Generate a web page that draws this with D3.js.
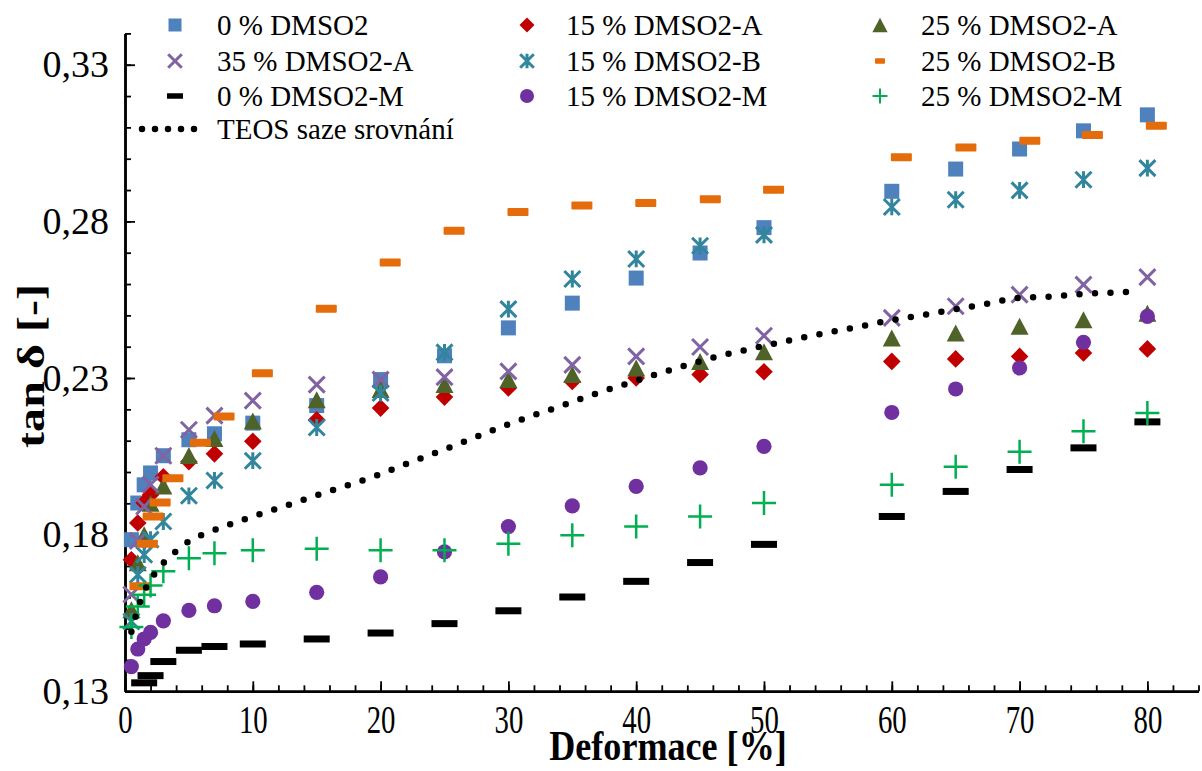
<!DOCTYPE html>
<html>
<head>
<meta charset="utf-8">
<script src="https://cdn.jsdelivr.net/npm/d3@7"></script>
<style>
  body { margin: 0; background: #fff; }
  svg { display: block; font-family: "Liberation Serif", "Times New Roman", serif; }
  svg text { font-family: "Liberation Serif", "Times New Roman", serif; }
</style>
</head>
<body>
<svg id="chart" width="1202" height="771"></svg>
<script>
// strain steps used by most of the samples
var strain = [0.5, 1, 1.5, 2, 3, 5, 7, 10, 15, 20, 25, 30, 35, 40, 45, 50, 60, 65, 70, 75, 80];
// 25 % DMSO2-B sits a bit to the right of the others
var strainB25 = [1.17, 1.75, 2.2, 2.75, 3.75, 5.9, 7.75, 10.75, 15.75, 20.75, 25.75, 30.75, 35.75, 40.75, 45.8, 50.75, 60.75, 65.8, 70.8, 75.7, 80.7];
// 0 % DMSO2-M has no points below 1.5 %
var strainM0 = [1.5, 2, 3, 5, 7, 10, 15, 20, 25, 30, 35, 40, 45, 50, 60, 65, 70, 75, 80];

var dmso0   = [0.1784, 0.1901, 0.1959, 0.1997, 0.2052, 0.2103, 0.2122, 0.2156, 0.2212, 0.2295, 0.2371, 0.2460, 0.2539, 0.2619, 0.2699, 0.2780, 0.2896, 0.2967, 0.3031, 0.3089, 0.3140];
var dmso15A = [0.1720, 0.1837, 0.1902, 0.1927, 0.1985, 0.2033, 0.2058, 0.2098, 0.2167, 0.2204, 0.2239, 0.2268, 0.2289, 0.2300, 0.2311, 0.2320, 0.2353, 0.2361, 0.2369, 0.2380, 0.2393];
var dmso25A = [0.1560, 0.1710, 0.1800, 0.1900, 0.1955, 0.2053, 0.2107, 0.2163, 0.2231, 0.2263, 0.2279, 0.2295, 0.2311, 0.2332, 0.2353, 0.2384, 0.2428, 0.2444, 0.2465, 0.2486, 0.2507];
var dmso35A = [0.1609, 0.1780, 0.1890, 0.1960, 0.2052, 0.2135, 0.2180, 0.2228, 0.2279, 0.2295, 0.2303, 0.2321, 0.2342, 0.2369, 0.2399, 0.2435, 0.2492, 0.2529, 0.2566, 0.2598, 0.2622];
var dmso15B = [0.1523, 0.1672, 0.1736, 0.1784, 0.1842, 0.1924, 0.1973, 0.2036, 0.2142, 0.2252, 0.2382, 0.2520, 0.2616, 0.2680, 0.2722, 0.2757, 0.2846, 0.2869, 0.2899, 0.2933, 0.2970];
var dmso25B = [0.1635, 0.1771, 0.1858, 0.1903, 0.1980, 0.2093, 0.2177, 0.2315, 0.2521, 0.2669, 0.2770, 0.2830, 0.2851, 0.2859, 0.2871, 0.2901, 0.3005, 0.3036, 0.3057, 0.3076, 0.3105];
var dmso0M  = [0.1327, 0.1350, 0.1395, 0.1431, 0.1443, 0.1451, 0.1467, 0.1486, 0.1516, 0.1557, 0.1601, 0.1651, 0.1711, 0.1769, 0.1858, 0.1938, 0.2008, 0.2077, 0.2160];
var dmso15M = [0.1379, 0.1435, 0.1467, 0.1488, 0.1525, 0.1558, 0.1573, 0.1587, 0.1616, 0.1665, 0.1745, 0.1826, 0.1892, 0.1954, 0.2013, 0.2082, 0.2190, 0.2265, 0.2332, 0.2414, 0.2497];
var dmso25M = [0.1505, 0.1571, 0.1608, 0.1638, 0.1683, 0.1725, 0.1741, 0.1750, 0.1755, 0.1750, 0.1750, 0.1771, 0.1798, 0.1826, 0.1858, 0.1901, 0.1959, 0.2017, 0.2065, 0.2130, 0.2188];

// TEOS comparison curve
var teosX = [0.5, 1.2, 2.4, 3.3, 4.2, 5.2, 6.4, 7.6, 10, 12.4, 14.9, 17.3, 19.7, 22, 24.4, 26.8, 29.2, 31.6, 34, 36.4, 38.8, 41.2, 43.6, 46.1, 48.6, 52.9, 57.3, 59.8, 62.3, 64.8, 67.3, 69.8, 72.4, 74.9, 77.5, 78.8];
var teosY = [0.149, 0.1587, 0.168, 0.1722, 0.1754, 0.1784, 0.1805, 0.1824, 0.1858, 0.189, 0.1924, 0.1956, 0.1989, 0.2026, 0.2063, 0.2101, 0.214, 0.2176, 0.2209, 0.2244, 0.2276, 0.2307, 0.2337, 0.2366, 0.239, 0.2428, 0.2463, 0.2483, 0.25, 0.2518, 0.2536, 0.2555, 0.256, 0.2568, 0.2573, 0.2575];

var xTicks = [0, 10, 20, 30, 40, 50, 60, 70, 80];
var yTicks = [0.13, 0.18, 0.23, 0.28, 0.33];

var series = [
  { name: "0 % DMSO2",     xs: strain,    ys: dmso0,   shape: "square",   color: "#4F81BD" },
  { name: "15 % DMSO2-A",  xs: strain,    ys: dmso15A, shape: "diamond",  color: "#C00000" },
  { name: "25 % DMSO2-A",  xs: strain,    ys: dmso25A, shape: "triangle", color: "#4F6228" },
  { name: "35 % DMSO2-A",  xs: strain,    ys: dmso35A, shape: "x",        color: "#8064A2" },
  { name: "15 % DMSO2-B",  xs: strain,    ys: dmso15B, shape: "star",     color: "#31859C" },
  { name: "25 % DMSO2-B",  xs: strainB25, ys: dmso25B, shape: "dashO",    color: "#E46C0A" },
  { name: "0 % DMSO2-M",   xs: strainM0,  ys: dmso0M,  shape: "dashK",    color: "#000000" },
  { name: "15 % DMSO2-M",  xs: strain,    ys: dmso15M, shape: "circle",   color: "#7030A0" },
  { name: "25 % DMSO2-M",  xs: strain,    ys: dmso25M, shape: "plus",     color: "#00B050" }
];

var svg = d3.select("#chart");
svg.append("rect").attr("width", 1202).attr("height", 771).attr("fill", "#fff");

var x = d3.scaleLinear().domain([0, 84]).range([125, 1198.5]);
var y = d3.scaleLinear().domain([0.13, 0.34]).range([691.3, 33.4]);

var czech = d3.formatLocale({ decimal: ",", thousands: " ", grouping: [3], currency: ["", ""] });
var fmt = czech.format(".2f");

// ---- axes ----
var yMinor = d3.range(13, 35).map(function (d) { return d / 100; });
var xMinor = d3.range(0, 85, 2);

var gy = svg.append("g").attr("transform", "translate(125,0)");
gy.call(d3.axisLeft(y).tickValues(yMinor).tickSize(-6).tickFormat("").tickSizeOuter(0));
var gyMajor = gy.append("g")
  .call(d3.axisLeft(y).tickValues(yTicks).tickSize(-10).tickPadding(16).tickFormat(fmt).tickSizeOuter(0));

var gx = svg.append("g").attr("transform", "translate(0,691.3)");
gx.call(d3.axisBottom(x).tickValues(xMinor).tickSize(-6).tickFormat("").tickSizeOuter(0));
var gxMajor = gx.append("g")
  .call(d3.axisBottom(x).tickValues(xTicks).tickSize(-10).tickPadding(13).tickFormat(d3.format("d")).tickSizeOuter(0));

svg.selectAll("g").attr("font-family", null).attr("font-size", null);
svg.selectAll(".domain").attr("stroke", "#000").attr("stroke-width", 2.5);
svg.selectAll(".tick line").attr("stroke", "#000").attr("stroke-width", 1.8);

gyMajor.selectAll("text")
  .style("font-family", "'Liberation Serif', serif")
  .style("font-size", "38px")
  .attr("fill", "#000");
// x labels in the original are drawn narrow and tall
gxMajor.selectAll(".tick text")
  .style("font-family", "'Liberation Serif', serif")
  .style("font-size", "40px")
  .attr("fill", "#000")
  .attr("transform", "scale(0.72,1)");

// axis titles
svg.append("text")
  .attr("transform", "translate(668,760) scale(0.84,1)")
  .attr("text-anchor", "middle")
  .attr("font-weight", "bold")
  .attr("font-size", 43)
  .text("Deformace [%]");

svg.append("text")
  .attr("transform", "translate(44,366) rotate(-90) scale(1.3,1)")
  .attr("text-anchor", "middle")
  .attr("font-weight", "bold")
  .attr("font-size", 37)
  .text("tan δ [-]");

// ---- markers ----
function drawMarker(g, shape, color, big) {
  var s = big ? 1 : 0.85;
  if (shape === "square") {
    var a = (big ? 15 : 13);
    g.append("rect").attr("x", -a / 2).attr("y", -a / 2).attr("width", a).attr("height", a).attr("fill", color);
  } else if (shape === "diamond") {
    var r = 8.8 * s;
    g.append("path").attr("d", "M0," + (-r) + "L" + r + ",0L0," + r + "L" + (-r) + ",0Z").attr("fill", color);
  } else if (shape === "triangle") {
    var w = 9 * s, h = 8.5 * s;
    g.append("path").attr("d", "M0," + (-h) + "L" + w + "," + h + "L" + (-w) + "," + h + "Z").attr("fill", color);
  } else if (shape === "x" || shape === "star") {
    var q = 8 * s;
    var d = "M" + (-q) + "," + (-q) + "L" + q + "," + q + "M" + (-q) + "," + q + "L" + q + "," + (-q);
    if (shape === "star") d += "M0," + (-q * 1.05) + "L0," + (q * 1.05);
    g.append("path").attr("d", d).attr("stroke", color).attr("stroke-width", 3).attr("fill", "none");
  } else if (shape === "dashO") {
    var dw = big ? 21 : 10, dh = big ? 8 : 5.5;
    g.append("rect").attr("x", -dw / 2).attr("y", -dh / 2).attr("width", dw).attr("height", dh).attr("rx", 1).attr("fill", color);
  } else if (shape === "dashK") {
    var kw = big ? 26 : 16, kh = big ? 7 : 5.5;
    g.append("rect").attr("x", -kw / 2).attr("y", -kh / 2).attr("width", kw).attr("height", kh).attr("fill", color);
  } else if (shape === "circle") {
    g.append("circle").attr("r", big ? 7.6 : 7).attr("fill", color);
  } else if (shape === "plus") {
    var p = big ? 12 : 7.5;
    g.append("path").attr("d", "M" + (-p) + ",0L" + p + ",0M0," + (-p) + "L0," + p)
      .attr("stroke", color).attr("stroke-width", big ? 2.5 : 2).attr("fill", "none");
  }
}

var plot = svg.append("g");
series.forEach(function (s) {
  var pts = s.xs.map(function (v, i) { return [v, s.ys[i]]; });
  plot.append("g").selectAll("g").data(pts).enter().append("g")
    .attr("transform", function (d) { return "translate(" + x(d[0]) + "," + y(d[1]) + ")"; })
    .each(function () { drawMarker(d3.select(this), s.shape, s.color, true); });
});

// TEOS dotted line
var teos = teosX.map(function (v, i) { return [v, teosY[i]]; });
var line = d3.line().x(function (d) { return x(d[0]); }).y(function (d) { return y(d[1]); }).curve(d3.curveMonotoneX);
plot.append("path").datum(teos).attr("d", line)
  .attr("fill", "none").attr("stroke", "#000").attr("stroke-width", 6.5)
  .attr("stroke-linecap", "round").attr("stroke-dasharray", "0,15.5");

// ---- legend ----
var legCols = [{ m: 175, t: 217 }, { m: 527, t: 566 }, { m: 880, t: 921 }];
var legRows = [25, 61, 96, 129];
var legend = svg.append("g").attr("font-size", 29);
series.forEach(function (s, i) {
  var c = legCols[i % 3], r = legRows[Math.floor(i / 3)];
  var g = legend.append("g").attr("transform", "translate(" + c.m + "," + r + ")");
  drawMarker(g, s.shape, s.color, false);
  legend.append("text").attr("x", c.t).attr("y", r).attr("dy", "0.33em").text(s.name);
});
legend.append("line")
  .attr("x1", 142).attr("x2", 207).attr("y1", legRows[3]).attr("y2", legRows[3])
  .attr("stroke", "#000").attr("stroke-width", 6.5).attr("stroke-linecap", "round").attr("stroke-dasharray", "0,13");
legend.append("text").attr("x", 217).attr("y", legRows[3]).attr("dy", "0.33em").text("TEOS saze srovnání");
</script>
</body>
</html>
